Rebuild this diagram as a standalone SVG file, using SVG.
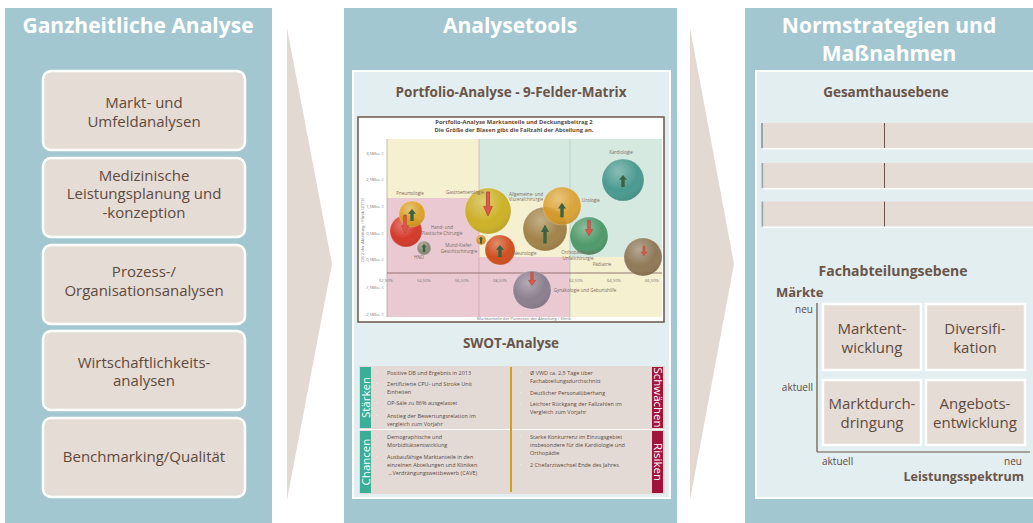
<svg xmlns="http://www.w3.org/2000/svg" xmlns:xlink="http://www.w3.org/1999/xlink" width="1033" height="523" viewBox="0 0 1033 523">
<defs>
<style>
.panel{fill:#a3c7d0}
.inner{fill:#e2eef0;stroke:#fff;stroke-width:2}
.box{fill:#e5dcd6;stroke:#fff;stroke-width:2.5}
.arrow{fill:#e3d9d3}
.ttl{font-family:"Open Sans","Liberation Sans",sans-serif;font-weight:bold;fill:#fff;font-size:21px;text-anchor:middle}
.bt{font-family:"Open Sans","Liberation Sans",sans-serif;fill:#5e4a3c;font-size:15px;text-anchor:middle}
.h{font-family:"Open Sans","Liberation Sans",sans-serif;font-weight:bold;fill:#6a5448;font-size:13.5px;text-anchor:middle}
.ct{font-family:"Open Sans","Liberation Sans",sans-serif;font-weight:bold;fill:#5a4a40;font-size:5.8px;text-anchor:middle}
.ax{font-family:"Open Sans","Liberation Sans",sans-serif;font-size:4.2px;fill:#777}
.lb{font-family:"Open Sans","Liberation Sans",sans-serif;font-size:4.5px;fill:#7a6a60;text-anchor:middle}
.sw{font-family:"Open Sans","Liberation Sans",sans-serif;font-size:5.5px;fill:#5a4a42}
.bul{fill:#f4efec}
.tab{font-family:"Open Sans","Liberation Sans",sans-serif;font-size:11.5px;fill:#fff;text-anchor:middle}
.sm{font-family:"Open Sans","Liberation Sans",sans-serif;font-size:10px;fill:#5e4a3c}
.bar{fill:#e5dcd6}
.bub{stroke:#ffffff;stroke-opacity:.35;stroke-width:.6}
</style>
<radialGradient id="gloss" cx="0.4" cy="0.3" r="0.75">
<stop offset="0" stop-color="#fff" stop-opacity="0.35"/>
<stop offset="0.6" stop-color="#fff" stop-opacity="0"/>
<stop offset="1" stop-color="#000" stop-opacity="0.12"/>
</radialGradient>
<g id="up"><polygon points="0,-6 4,-1.2 1.7,-1.2 1.7,6 -1.7,6 -1.7,-1.2 -4,-1.2" fill="#3a6343"/></g>
<g id="dn"><polygon points="0,6 3.6,1.2 1.3,1.2 1.3,-6 -1.3,-6 -1.3,1.2 -3.6,1.2" fill="#e0564a" stroke="#a83a30" stroke-width=".4"/></g>
</defs>

<!-- panels -->
<g id="panel-left">
<rect class="panel" x="5" y="8" width="267" height="515"/>
<text class="ttl" x="138" y="33">Ganzheitliche Analyse</text>
</g>
<g id="panel-middle">
<rect class="panel" x="344" y="8" width="333" height="515"/>
<text class="ttl" x="510" y="33">Analysetools</text>
<rect class="inner" x="353" y="71" width="317" height="427"/>
</g>
<g id="panel-right">
<rect class="panel" x="745" y="8" width="290" height="515"/>
<text class="ttl" x="889" y="33">Normstrategien und</text>
<text class="ttl" x="889" y="61">Maßnahmen</text>
<rect class="inner" x="756" y="71" width="285" height="427"/>
</g>

<!-- connectors -->
<g id="connectors">
<polygon class="arrow" points="287,28 332,264 287,500"/>
<polygon class="arrow" points="690,28 734,264 690,500"/>
</g>

<!-- left boxes -->
<g id="node-markt">
<rect class="box" x="43" y="71" width="202" height="79" rx="8"/>
<text class="bt" x="144" y="108">Markt- und</text>
<text class="bt" x="144" y="127">Umfeldanalysen</text>
</g>
<g id="node-medizin">
<rect class="box" x="43" y="158" width="202" height="79" rx="8"/>
<text class="bt" x="144" y="181">Medizinische</text>
<text class="bt" x="144" y="199">Leistungsplanung und</text>
<text class="bt" x="144" y="218">-konzeption</text>
</g>
<g id="node-prozess">
<rect class="box" x="43" y="245" width="202" height="79" rx="8"/>
<text class="bt" x="144" y="277">Prozess-/</text>
<text class="bt" x="144" y="296">Organisationsanalysen</text>
</g>
<g id="node-wirtschaft">
<rect class="box" x="43" y="331" width="202" height="79" rx="8"/>
<text class="bt" x="144" y="368">Wirtschaftlichkeits-</text>
<text class="bt" x="144" y="386">analysen</text>
</g>
<g id="node-benchmark">
<rect class="box" x="43" y="418" width="202" height="79" rx="8"/>
<text class="bt" x="144" y="462">Benchmarking/Qualität</text>
</g>

<!-- middle: portfolio -->
<g id="node-portfolio">
<text class="h" x="511" y="97">Portfolio-Analyse  - 9-Felder-Matrix</text>
<rect x="358" y="117" width="306" height="205" fill="#fff" stroke="#6b5549" stroke-width="1.5"/>
<text class="ct" x="514" y="124">Portfolio-Analyse Marktanteile und Deckungsbeitrag 2</text>
<text class="ct" x="514" y="132">Die Größe der Blasen gibt die Fallzahl der Abteilung an.</text>
<rect x="387" y="139" width="92" height="59" fill="#f5f0cf"/>
<rect x="479" y="139" width="91" height="59" fill="#d6e9e0"/>
<rect x="570" y="139" width="92" height="59" fill="#d6e9e0"/>
<rect x="387" y="198" width="92" height="59" fill="#ebc9d3"/>
<rect x="479" y="198" width="91" height="59" fill="#f5f0cf"/>
<rect x="570" y="198" width="92" height="59" fill="#d6e9e0"/>
<rect x="387" y="257" width="92" height="60" fill="#ebc9d3"/>
<rect x="479" y="257" width="91" height="60" fill="#ebc9d3"/>
<rect x="570" y="257" width="92" height="60" fill="#f5f0cf"/>
<line x1="479" y1="139" x2="479" y2="317" stroke="#c79aa8" stroke-width=".6"/>
<line x1="570" y1="139" x2="570" y2="317" stroke="#9cc7b4" stroke-width=".6"/>
<line x1="387" y1="139" x2="387" y2="317" stroke="#aaa" stroke-width=".8"/>
<line x1="387" y1="273" x2="662" y2="273" stroke="#7a5a5a" stroke-width=".8"/>
<g class="ax" text-anchor="end">
<text x="384" y="155">3,5Mio. €</text>
<text x="384" y="181">2,5Mio. €</text>
<text x="384" y="208">1,5Mio. €</text>
<text x="384" y="235">0,5Mio. €</text>
<text x="384" y="261">-0,5Mio. €</text>
<text x="384" y="289">-1,5Mio. €</text>
<text x="384" y="316">-2,5Mio. €</text>
</g>
<g class="ax" text-anchor="middle">
<text x="386" y="282">52,50%</text>
<text x="424" y="282">54,50%</text>
<text x="462" y="282">56,50%</text>
<text x="500" y="282">58,50%</text>
<text x="538" y="282">60,50%</text>
<text x="576" y="282">62,50%</text>
<text x="614" y="282">64,50%</text>
<text x="652" y="282">66,50%</text>
</g>
<text class="ax" text-anchor="middle" transform="translate(364,230) rotate(-90)">DB 2 der Abteilung / Klinik (2013)</text>
<text class="ax" text-anchor="middle" x="524" y="320">Marktanteile der Patienten der Abteilung / Klinik</text>
<circle class="bub" cx="406" cy="231" r="16" fill="#d43a2a"/><circle cx="406" cy="231" r="16" fill="url(#gloss)"/>
<circle class="bub" cx="412" cy="214" r="13" fill="#d9a020" fill-opacity=".92"/><circle cx="412" cy="214" r="13" fill="url(#gloss)"/>
<use xlink:href="#up" x="412" y="215"/>
<use xlink:href="#dn" transform="translate(405,224) scale(1,1.5)"/>
<circle class="bub" cx="424" cy="248" r="7" fill="#8e8b78"/><circle cx="424" cy="248" r="7" fill="url(#gloss)"/>
<use xlink:href="#up" transform="translate(424,248) scale(.7)"/>
<circle class="bub" cx="488" cy="211" r="23" fill="#c9ad1a" fill-opacity=".92"/><circle cx="488" cy="211" r="23" fill="url(#gloss)"/>
<use xlink:href="#dn" transform="translate(488,204) scale(1.2,2)"/>
<circle class="bub" cx="500" cy="250" r="15" fill="#d0501f"/><circle cx="500" cy="250" r="15" fill="url(#gloss)"/>
<use xlink:href="#up" x="500" y="251"/>
<circle class="bub" cx="481" cy="240" r="5" fill="#e0902a"/><circle cx="481" cy="240" r="5" fill="url(#gloss)"/>
<use xlink:href="#up" transform="translate(481,240) scale(.6)"/>
<circle class="bub" cx="545" cy="229" r="22" fill="#9a7b3e" fill-opacity=".92"/><circle cx="545" cy="229" r="22" fill="url(#gloss)"/>
<use xlink:href="#up" transform="translate(545,234) scale(1,1.6)"/>
<circle class="bub" cx="562" cy="206" r="19" fill="#d99a22" fill-opacity=".88"/><circle cx="562" cy="206" r="19" fill="url(#gloss)"/>
<use xlink:href="#up" transform="translate(562,210) scale(1,1.2)"/>
<circle class="bub" cx="589" cy="236" r="19" fill="#4f9a6a"/><circle cx="589" cy="236" r="19" fill="url(#gloss)"/>
<use xlink:href="#dn" transform="translate(589,228) scale(1,1.3)"/>
<circle class="bub" cx="623" cy="180" r="21" fill="#4a9a90"/><circle cx="623" cy="180" r="21" fill="url(#gloss)"/>
<use xlink:href="#up" x="623" y="181"/>
<circle class="bub" cx="643" cy="257" r="19" fill="#8a7250" fill-opacity=".95"/><circle cx="643" cy="257" r="19" fill="url(#gloss)"/>
<use xlink:href="#dn" transform="translate(644,251) scale(.8)"/>
<circle class="bub" cx="532" cy="290" r="19" fill="#8c7f8e"/><circle cx="532" cy="290" r="19" fill="url(#gloss)"/>
<use xlink:href="#dn" transform="translate(532,279) scale(1,1.1)"/>
<text class="lb" x="410" y="195">Pneumologie</text>
<text class="lb" x="465" y="194">Gastroenterologie</text>
<text class="lb" x="526" y="196">Allgemeine- und</text>
<text class="lb" x="526" y="201">Viszeralchirurgie</text>
<text class="lb" x="591" y="202">Urologie</text>
<text class="lb" x="621" y="154">Kardiologie</text>
<text class="lb" x="442" y="229">Hand- und</text>
<text class="lb" x="442" y="235">Plastische Chirurgie</text>
<text class="lb" x="419" y="259">HNO</text>
<text class="lb" x="459" y="247">Mund-Kiefer-</text>
<text class="lb" x="459" y="253">Gesichtschirurgie</text>
<text class="lb" x="525" y="255">Neurologie</text>
<text class="lb" x="578" y="254">Orthopädie und</text>
<text class="lb" x="578" y="260">Unfallchirurgie</text>
<text class="lb" x="602" y="266">Pädiatrie</text>
<text class="lb" x="585" y="292">Gynäkologie und Geburtshilfe</text>
</g>

<!-- middle: SWOT -->
<g id="node-swot">
<text class="h" x="511" y="348">SWOT-Analyse</text>
<rect x="359" y="366" width="306" height="128" fill="#e4dad5"/>
<line x1="359" y1="429.5" x2="665" y2="429.5" stroke="#fff" stroke-width="1.2"/>
<line x1="511" y1="367" x2="511" y2="492" stroke="#d4a017" stroke-width="2"/>
<rect x="360" y="367" width="11" height="61" fill="#3aae98"/>
<rect x="360" y="431" width="11" height="62" fill="#3aae98"/>
<rect x="652" y="367" width="11" height="61" fill="#a0143c"/>
<rect x="652" y="431" width="11" height="62" fill="#a0143c"/>
<text class="tab" transform="translate(369.5,397.5) rotate(-90)">Stärken</text>
<text class="tab" transform="translate(369.5,462) rotate(-90)">Chancen</text>
<text class="tab" transform="translate(653.5,397.5) rotate(90)">Schwächen</text>
<text class="tab" transform="translate(653.5,462) rotate(90)">Risiken</text>
<g class="bul">
<rect x="376" y="372.5" width="1.6" height=".6"/>
<rect x="376" y="383.5" width="1.6" height=".6"/>
<rect x="376" y="402.5" width="1.6" height=".6"/>
<rect x="376" y="415.5" width="1.6" height=".6"/>
<rect x="376" y="436.5" width="1.6" height=".6"/>
<rect x="376" y="456.5" width="1.6" height=".6"/>
<rect x="520" y="372.5" width="1.6" height=".6"/>
<rect x="520" y="392.5" width="1.6" height=".6"/>
<rect x="520" y="403.5" width="1.6" height=".6"/>
<rect x="520" y="436.5" width="1.6" height=".6"/>
<rect x="520" y="464.5" width="1.6" height=".6"/>
</g>
<g class="sw">
<text x="387" y="375">Positive DB und  Ergebnis in 2013</text>
<text x="387" y="386">Zertifizierte CPU- und Stroke Unit</text>
<text x="387" y="394">Einheiten</text>
<text x="387" y="405">OP-Säle zu  86% ausgelastet</text>
<text x="387" y="418">Anstieg der Bewertungsrelation im</text>
<text x="387" y="426">vergleich zum  Vorjahr</text>
<text x="387" y="439">Demographische und</text>
<text x="387" y="447">Morbiditätsentwicklung</text>
<text x="387" y="459">Ausbaufähige Marktanteile in den</text>
<text x="387" y="467">einzelnen Abteilungen und Kliniken</text>
<text x="387" y="475">→Verdrängungswettbewerb (CAVE)</text>
<text x="530" y="375">Ø VWD ca. 2,5 Tage über</text>
<text x="530" y="383">Fachabteilungsdurchschnitt</text>
<text x="530" y="395">Deutlicher Personalüberhang</text>
<text x="530" y="406">Leichter Rückgang der Fallzahlen im</text>
<text x="530" y="414">Vergleich zum Vorjahr</text>
<text x="530" y="439">Starke Konkurrenz im Einzugsgebiet</text>
<text x="530" y="447">insbesondere für die Kardiologie und</text>
<text x="530" y="455">Orthopädie</text>
<text x="530" y="467">2 Chefarztwechsel  Ende des Jahres</text>
</g>
</g>

<!-- right: Gesamthausebene -->
<g id="node-gesamthaus">
<text class="h" x="886" y="97">Gesamthausebene</text>
<rect x="761" y="123" width="2" height="25" fill="#9aa5a8"/>
<rect class="bar" x="763" y="123" width="275" height="25"/>
<rect x="763" y="148" width="275" height="1.5" fill="#fff"/>
<line x1="884.5" y1="123" x2="884.5" y2="148" stroke="#6a5448" stroke-width="1"/>
<rect x="761.5" y="163" width="2" height="25" fill="#9aa5a8"/>
<rect class="bar" x="763.5" y="163" width="275" height="25"/>
<rect x="763.5" y="188" width="275" height="1.5" fill="#fff"/>
<line x1="884.5" y1="163" x2="884.5" y2="188" stroke="#6a5448" stroke-width="1"/>
<rect x="761.5" y="201.5" width="2" height="25" fill="#9aa5a8"/>
<rect class="bar" x="763.5" y="201.5" width="275" height="25"/>
<rect x="763.5" y="226.5" width="275" height="1.5" fill="#fff"/>
<line x1="884.5" y1="201.5" x2="884.5" y2="226.5" stroke="#6a5448" stroke-width="1"/>
</g>

<!-- right: Fachabteilungsebene -->
<g id="node-fachabteilung">
<text class="h" x="893" y="276" style="font-size:14px">Fachabteilungsebene</text>
<text class="h" x="776" y="297" style="text-anchor:start;font-size:13px">Märkte</text>
<text class="sm" x="813" y="313" text-anchor="end">neu</text>
<text class="sm" x="813" y="391" text-anchor="end">aktuell</text>
<text class="sm" x="822" y="465">aktuell</text>
<text class="sm" x="1022" y="465" text-anchor="end">neu</text>
<text class="h" x="1024" y="481" style="text-anchor:end;font-size:12.5px">Leistungsspektrum</text>
<line x1="817" y1="303" x2="817" y2="452" stroke="#6a5448" stroke-width="1.2"/>
<line x1="817" y1="452" x2="1030" y2="452" stroke="#6a5448" stroke-width="1.2"/>
</g>
<g id="node-marktentwicklung">
<rect class="box" x="823" y="304" width="98" height="66"/>
<text class="bt" x="872" y="334">Marktent-</text>
<text class="bt" x="872" y="353">wicklung</text>
</g>
<g id="node-diversifikation">
<rect class="box" x="926" y="304" width="99" height="66"/>
<text class="bt" x="975" y="334">Diversifi-</text>
<text class="bt" x="975" y="353">kation</text>
</g>
<g id="node-marktdurchdringung">
<rect class="box" x="823" y="380" width="98" height="65"/>
<text class="bt" x="872" y="409">Marktdurch-</text>
<text class="bt" x="872" y="428">dringung</text>
</g>
<g id="node-angebotsentwicklung">
<rect class="box" x="926" y="380" width="99" height="65"/>
<text class="bt" x="975" y="409">Angebots-</text>
<text class="bt" x="975" y="428">entwicklung</text>
</g>
</svg>
